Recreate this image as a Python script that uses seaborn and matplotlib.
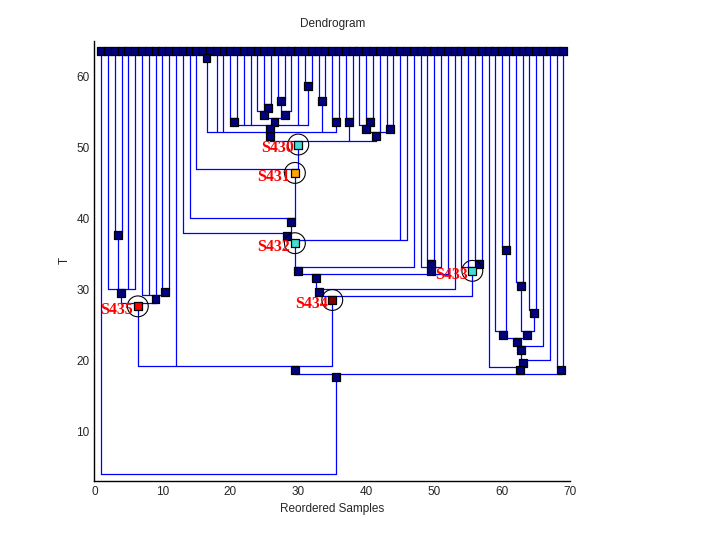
"""
Dendrogram of the reordered samples, with the S430-S435 nodes picked out
"""

import pandas as pd
import matplotlib
matplotlib.use('Agg')
import matplotlib.pyplot as plt
import seaborn as sns

# Leaves: one per reordered sample, all sitting on the top row
leaf_ids = list(range(1, 70))
LEAF_T = 63.6
JOIN_OFFSET = 0.5   # a join line sits at the top edge of its node marker

# Internal nodes (x = position, t = marker level)
node_names = ['A', 'B', 'C', 'D', 'S435',
              'F', 'G', 'K', 'L', 'M', 'N', 'O', 'J', 'P', 'R', 'S', 'Q',
              'Tn', 'U', 'V', 'W', 'X', 'S430', 'S431', 'Y', 'Z', 'S432',
              'AA', 'BB', 'CC', 'DD', 'EE', 'FF', 'S433', 'S434', 'E',
              'GG', 'HH', 'II', 'JJ', 'KK', 'LL', 'MM', 'NN', 'OO', 'PP',
              'QQ', 'root']
node_x = [3.5, 3.9, 10.4, 9.0, 6.4,
          16.5, 20.5, 25.5, 27.5, 25.0, 28.0, 26.5, 31.5, 25.9, 33.5, 35.5, 25.9,
          37.5, 40.5, 40.0, 43.5, 41.5, 30.0, 29.5, 29.0, 28.4, 29.5,
          30.0, 49.5, 49.5, 32.6, 33.0, 56.6, 55.6, 35.0, 29.5,
          60.6, 60.1, 62.7, 64.6, 63.6, 62.1, 62.7, 63.0, 62.6, 68.6,
          35.5, 18.0]
node_t = [37.6, 29.5, 29.6, 28.7, 27.6,
          62.6, 53.6, 55.6, 56.5, 54.6, 54.6, 53.6, 58.6, 52.6, 56.5, 53.6, 51.6,
          53.6, 53.6, 52.6, 52.6, 51.6, 50.4, 46.4, 39.5, 37.5, 36.5,
          32.6, 33.6, 32.6, 31.6, 29.6, 33.6, 32.6, 28.5, 18.7,
          35.5, 23.6, 30.5, 26.6, 23.6, 22.6, 21.5, 19.6, 18.6, 18.6,
          17.6, 3.55]
node_children = [[3, 4], [2, 'A', 5, 6], [10, 11], [7, 8, 9, 'C'], ['B', 'D'],
                 [16, 17], [20, 21], [25, 26], [27, 28], [24, 'K'], ['L', 29],
                 ['M', 'N'], [31, 32], ['G', 22, 23, 'O', 30, 'J'], [33, 34],
                 [35, 36], ['F', 18, 19, 'P', 'R', 'S'],
                 [37, 38], [40, 41], [39, 'U'], [43, 44], ['V', 42, 'W'],
                 ['Q', 'Tn', 'X'], [15, 'S430'], [14, 'S431'], [13, 'Y'],
                 ['Z', 45, 46],
                 ['S432', 47], [49, 50], [48, 'BB', 51], ['AA', 'CC', 52],
                 ['DD', 53], [56, 57], [54, 55, 'FF'], ['EE', 'S433'],
                 ['S435', 12, 'S434'],
                 [60, 61], [59, 'GG'], [62, 63], [64, 65], ['II', 'JJ'],
                 ['HH', 'KK'], ['LL', 66], ['MM', 67], [58, 'NN'], [68, 69],
                 ['E', 'OO', 'PP'], [1, 'QQ']]

# Highlighted nodes and their fill colours
highlight_names = ['S430', 'S431', 'S432', 'S433', 'S434', 'S435']
highlight_colors = ['#40E0D0', '#FFA500', '#40E0D0', '#40E0D0', '#800000', '#FF0000']

LINE_COLOR = '#0000FF'
NODE_COLOR = '#000080'


def node_positions():
    """Map every leaf and node name to its (x, t)"""
    pos = {leaf: (leaf, LEAF_T) for leaf in leaf_ids}
    for name, x, t in zip(node_names, node_x, node_t):
        pos[name] = (x, t)
    return pos


def draw_tree(ax, pos):
    """Blue elbow lines: child verticals down to the parent's join level"""
    for name, kids in zip(node_names, node_children):
        px, pt = pos[name]
        join = pt + JOIN_OFFSET
        xs = [pos[k][0] for k in kids] + [px]
        ax.plot([min(xs), max(xs)], [join, join], color=LINE_COLOR, lw=0.9, zorder=1)
        for k in kids:
            kx, kt = pos[k]
            ax.plot([kx, kx], [kt, join], color=LINE_COLOR, lw=0.9, zorder=1)


def main():
    sns.set_style('white')
    plt.rcParams['font.family'] = ['Liberation Sans', 'DejaVu Sans']

    fig = plt.figure(figsize=(7.2, 5.4), dpi=100)
    ax = fig.add_axes([0.131, 0.1093, 0.661, 0.815])

    pos = node_positions()
    draw_tree(ax, pos)

    # markers for all leaves and nodes (the root has none)
    colour_of = dict(zip(highlight_names, highlight_colors))
    rows = []
    for key, (x, t) in pos.items():
        if key == 'root':
            continue
        rows.append({'x': x, 't': t, 'fill': colour_of.get(key, NODE_COLOR)})
    markers = pd.DataFrame(rows)
    palette = {c: c for c in markers['fill'].unique()}
    sns.scatterplot(data=markers, x='x', y='t', hue='fill', palette=palette,
                    marker='s', s=33, edgecolor='black', linewidth=0.9,
                    legend=False, ax=ax, zorder=3)

    # circles and labels on the highlighted nodes
    hl = pd.DataFrame({'name': highlight_names,
                       'x': [pos[n][0] for n in highlight_names],
                       't': [pos[n][1] for n in highlight_names]})
    sns.scatterplot(data=hl, x='x', y='t', marker='o', s=225, facecolor='none',
                    edgecolor='black', linewidth=0.8, legend=False, ax=ax, zorder=4)
    for _, r in hl.iterrows():
        ax.text(r['x'] - 0.7, r['t'] - 0.55, r['name'], color='red',
                fontsize=11.5, fontweight='bold', family=['Liberation Serif', 'DejaVu Serif'],
                ha='right', va='center', zorder=5)

    ax.set_xlim(0, 70)
    ax.set_ylim(3, 65)
    ax.set_xticks(range(0, 71, 10))
    ax.set_yticks(range(10, 61, 10))
    ax.tick_params(direction='in', length=4, labelsize=8.5, color='black')
    for side in ['top', 'right']:
        ax.spines[side].set_visible(False)
    for side in ['left', 'bottom']:
        ax.spines[side].set_color('black')
        ax.spines[side].set_linewidth(1.0)

    ax.set_title('Dendrogram', fontsize=8.5, pad=10)
    ax.set_xlabel('Reordered Samples', fontsize=8.5)
    ax.set_ylabel('T', fontsize=8.5)

    fig.savefig('out.png', dpi=100)
    plt.close(fig)


if __name__ == '__main__':
    main()
